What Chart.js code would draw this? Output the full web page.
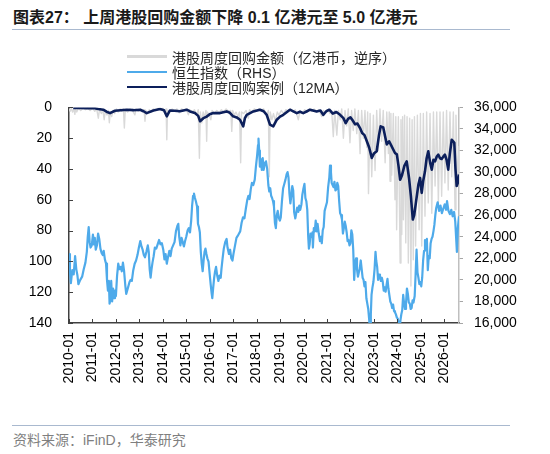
<!DOCTYPE html>
<html><head><meta charset="utf-8">
<script src="https://cdn.jsdelivr.net/npm/chart.js@4.4.1/dist/chart.umd.min.js"></script>
<style>
html,body{margin:0;padding:0;background:#fff}
body{width:550px;height:454px;position:relative;overflow:hidden;font-family:"Liberation Sans",Arial,"Noto Sans CJK SC",sans-serif}
#title{position:absolute;left:13px;top:8px;font-size:16px;font-weight:bold;color:#1a1a1a;white-space:nowrap;line-height:20px}
#tline{position:absolute;left:12px;top:29px;width:498px;height:1px;background:#a9b9cf}
#legend{position:absolute;left:127px;top:49px;font-size:14px;color:#262626;font-family:"Liberation Sans","Noto Sans CJK SC",sans-serif;z-index:2}
.item{height:15.3px;display:flex;align-items:center;white-space:nowrap}
.sw{width:40px;height:2.5px;margin-right:5px}
#bline{position:absolute;left:12px;top:425px;width:498px;height:1px;background:#a9b9cf}
#source{position:absolute;left:13px;top:431px;font-size:14px;color:#7f7f7f;white-space:nowrap;line-height:18px}
#wrap{position:absolute;left:0;top:82px;width:550px;height:324px}
</style>
</head><body>
<div id="title">图表27：&nbsp;上周港股回购金额下降 0.1 亿港元至 5.0 亿港元</div>
<div id="tline"></div>
<div id="legend"></div>
<div id="wrap"><canvas id="c" width="550" height="324"></canvas></div>
<div id="bline"></div>
<div id="source">资料来源：iFinD，华泰研究</div>
<script>
// ---------------- data ----------------
const seriesNames = ['港股周度回购金额（亿港币，逆序）', '恒生指数（RHS）', '港股周度回购案例（12MA）'];
const yearTicks = [2010,2011,2012,2013,2014,2015,2016,2017,2018,2019,2020,2021,2022,2023,2024,2025,2026];
const leftTicks = [0,20,40,60,80,100,120,140];

// weekly buyback amount (100m HKD), [decimal year, value]
const buybackAmount = [
[2010.00,1],[2010.05,2.5],[2010.10,0.5],[2010.15,3],[2010.20,1],[2010.25,4.5],[2010.28,1],[2010.33,3],[2010.40,0.5],[2010.50,2],[2010.60,0.5],[2010.70,1.5],[2010.80,0.5],[2010.90,2],
[2011.00,0.5],[2011.10,2.5],[2011.18,1],[2011.25,7],[2011.30,1.5],[2011.38,4],[2011.44,1.5],[2011.50,8],[2011.55,2],[2011.62,5],[2011.68,2],[2011.72,10],[2011.76,3],[2011.82,6],[2011.88,2],[2011.95,4],
[2012.02,1],[2012.10,3],[2012.18,1],[2012.25,2.5],[2012.32,1],[2012.36,13.4],[2012.40,1.5],[2012.50,3],[2012.60,1],[2012.70,2],[2012.81,4.8],[2012.86,1],[2012.95,2.5],
[2013.05,1],[2013.12,3],[2013.20,1.5],[2013.24,9],[2013.28,2],[2013.35,4],[2013.42,1.5],[2013.50,3],[2013.60,1],[2013.70,2],[2013.80,0.5],[2013.90,1.5],
[2014.00,0.5],[2014.08,2.5],[2014.14,1],[2014.17,21],[2014.20,2],[2014.30,3],[2014.40,1],[2014.50,2.5],[2014.60,1],[2014.70,3.5],[2014.80,1],[2014.90,2],
[2015.00,1],[2015.09,4.8],[2015.15,1.5],[2015.25,3],[2015.35,1.5],[2015.45,5],[2015.51,1.5],[2015.56,33],[2015.60,3],[2015.66,10],[2015.72,3],[2015.78,7],[2015.84,2],[2015.87,22],[2015.90,3],[2015.98,5],
[2016.05,8],[2016.10,2],[2016.20,4],[2016.30,2],[2016.40,3.5],[2016.50,1.5],[2016.60,3],[2016.70,1],[2016.80,2.5],[2016.90,2],[2016.94,15.6],[2016.98,2],
[2017.05,5],[2017.12,3],[2017.20,6],[2017.27,3],[2017.32,36],[2017.36,3],[2017.45,4],[2017.55,2],[2017.65,7],[2017.70,1.5],[2017.80,3],[2017.90,1],
[2018.00,2],[2018.10,1],[2018.20,2],[2018.30,1],[2018.38,3],[2018.43,4.8],[2018.50,2],[2018.54,45],[2018.58,3],[2018.65,8],[2018.72,4],[2018.80,9],[2018.88,3],[2018.95,5],
[2019.05,2],[2019.15,4],[2019.25,1.5],[2019.35,2.5],[2019.45,1],[2019.55,3],[2019.65,1.5],[2019.72,5],[2019.78,8],[2019.85,2],[2019.95,4],
[2020.05,1.5],[2020.15,3],[2020.25,1],[2020.35,2.5],[2020.45,1],[2020.55,3],[2020.65,1.5],[2020.72,4],[2020.78,6],[2020.85,2],[2020.95,3.5],
[2021.05,1.5],[2021.12,4],[2021.20,2],[2021.27,19],[2021.33,2],[2021.42,18],[2021.49,2],[2021.56,8],[2021.63,1],[2021.70,20],[2021.77,2],[2021.84,12],[2021.91,1],[2021.98,23],
[2022.05,2],[2022.12,15],[2022.19,1],[2022.27,17],[2022.34,2],[2022.41,30],[2022.48,2],[2022.55,20],[2022.62,2],[2022.70,26],[2022.735,3],[2022.77,56],[2022.84,4],[2022.91,45],[2022.98,5],
[2023.05,41],[2023.12,2],[2023.19,28],[2023.26,1],[2023.33,22],[2023.40,2],[2023.48,36],[2023.55,3],[2023.62,30],[2023.655,3],[2023.69,48],[2023.725,4],[2023.76,44],[2023.83,4],[2023.90,60],[2023.935,6],[2023.97,79.5],
[2024.045,6],[2024.12,101],[2024.155,8],[2024.19,82.5],[2024.225,6],[2024.26,73],[2024.31,5],[2024.36,88],[2024.415,6],[2024.47,101],[2024.525,7],[2024.58,116],[2024.63,8],[2024.68,99],[2024.73,6],[2024.78,90],[2024.855,5],[2024.93,79.5],[2024.985,4],
[2025.04,90],[2025.11,4],[2025.18,70.6],[2025.25,3],[2025.32,62],[2025.395,4],[2025.47,68.7],[2025.54,3],[2025.61,51],[2025.68,3],[2025.75,62],[2025.82,3],[2025.89,57.7],[2025.96,3],
[2026.03,49],[2026.10,2],[2026.17,53.6],[2026.245,3],[2026.32,45],[2026.39,3],[2026.46,66.5],[2026.50,5],[2026.57,51],[2026.63,25]
];

// Hang Seng Index, [decimal year, value]
const hangSeng = [
[2010.00,22400],[2010.04,20800],[2010.08,19700],[2010.14,20900],[2010.20,20500],[2010.26,22200],[2010.31,21000],[2010.36,20400],[2010.40,19600],[2010.48,20000],[2010.56,20300],[2010.63,21000],[2010.70,21600],[2010.76,22600],[2010.80,24000],[2010.84,24900],[2010.88,23500],[2010.92,23000],[2010.97,23200],
[2011.02,24200],[2011.06,23300],[2011.10,23900],[2011.14,22800],[2011.19,23200],[2011.24,24300],[2011.29,23800],[2011.34,22900],[2011.39,22500],[2011.44,22300],[2011.48,22700],[2011.53,21900],[2011.58,21500],[2011.62,20000],[2011.66,19000],[2011.70,19900],[2011.73,17800],[2011.77,18200],[2011.80,19900],[2011.84,18000],[2011.88,19200],[2011.92,18300],[2011.96,19000],
[2012.00,18500],[2012.05,20400],[2012.10,21500],[2012.15,21000],[2012.20,21200],[2012.25,20800],[2012.30,21600],[2012.35,20800],[2012.40,19500],[2012.44,18700],[2012.48,19000],[2012.53,19400],[2012.58,19800],[2012.63,20000],[2012.68,19900],[2012.74,20900],[2012.80,21500],[2012.86,21800],[2012.92,22300],[2012.98,23000],
[2013.04,23600],[2013.09,23100],[2013.14,22800],[2013.19,22300],[2013.24,22100],[2013.30,22600],[2013.36,23200],[2013.40,22600],[2013.44,21000],[2013.48,20200],[2013.52,21000],[2013.56,21600],[2013.61,22200],[2013.66,23000],[2013.72,22900],[2013.78,23300],[2013.84,23700],[2013.90,23300],[2013.96,23400],
[2014.02,22800],[2014.07,21900],[2014.12,22400],[2014.17,21500],[2014.22,22100],[2014.28,22700],[2014.33,22200],[2014.38,22900],[2014.44,23200],[2014.50,23500],[2014.56,24500],[2014.62,25000],[2014.66,25200],[2014.70,24000],[2014.75,23200],[2014.80,23900],[2014.85,23500],[2014.90,23100],[2014.95,23600],
[2015.00,24000],[2015.06,24600],[2015.11,24800],[2015.16,24400],[2015.21,25500],[2015.25,26900],[2015.29,27800],[2015.33,28000],[2015.37,27600],[2015.41,27300],[2015.46,26800],[2015.50,25200],[2015.54,24900],[2015.58,24400],[2015.62,22600],[2015.66,21500],[2015.70,20800],[2015.74,21800],[2015.78,22600],[2015.82,22900],[2015.86,22400],[2015.90,22000],[2015.95,21700],
[2016.00,20500],[2016.04,19600],[2016.08,18800],[2016.11,18300],[2016.15,19300],[2016.19,20200],[2016.23,20800],[2016.27,21200],[2016.32,20400],[2016.37,19900],[2016.42,20400],[2016.47,20200],[2016.50,21000],[2016.55,22000],[2016.60,22900],[2016.66,23500],[2016.72,23800],[2016.76,23000],[2016.82,22400],[2016.87,22800],[2016.92,22000],[2016.97,21800],
[2017.02,22500],[2017.08,23200],[2017.14,23900],[2017.20,24100],[2017.25,24300],[2017.30,24500],[2017.36,25300],[2017.42,25800],[2017.48,25700],[2017.54,26600],[2017.60,27400],[2017.65,27800],[2017.70,27500],[2017.75,28400],[2017.80,29000],[2017.86,28800],[2017.92,29300],[2017.97,30500],
[2018.02,31500],[2018.06,32500],[2018.08,33100],[2018.11,32000],[2018.14,30500],[2018.18,31200],[2018.22,30200],[2018.26,31300],[2018.30,30200],[2018.35,30800],[2018.40,31000],[2018.45,30300],[2018.50,28800],[2018.54,28200],[2018.58,28500],[2018.62,27800],[2018.66,27600],[2018.70,27300],[2018.74,26800],[2018.78,25300],[2018.82,24800],[2018.86,26000],[2018.90,26400],[2018.94,25800],[2018.99,25500],
[2019.03,25800],[2019.08,27300],[2019.13,28500],[2019.18,28900],[2019.23,29300],[2019.28,29800],[2019.32,30000],[2019.36,29500],[2019.40,28000],[2019.44,27100],[2019.48,27800],[2019.52,28700],[2019.56,28300],[2019.60,26300],[2019.65,25700],[2019.69,26200],[2019.73,26700],[2019.78,26300],[2019.82,26900],[2019.86,26500],[2019.91,27000],[2019.95,27900],[2019.99,28400],
[2020.04,28900],[2020.08,27600],[2020.12,27300],[2020.16,26500],[2020.20,24000],[2020.23,22900],[2020.26,23300],[2020.30,24300],[2020.34,24000],[2020.38,24400],[2020.40,23000],[2020.44,24800],[2020.48,24500],[2020.52,25500],[2020.56,24500],[2020.60,25200],[2020.65,24300],[2020.70,23600],[2020.74,24000],[2020.78,23400],[2020.82,24600],[2020.86,24900],[2020.90,26400],[2020.95,26800],
[2021.00,27200],[2021.05,28600],[2021.10,29500],[2021.13,30600],[2021.17,30000],[2021.20,29000],[2021.24,28800],[2021.28,28600],[2021.32,29100],[2021.36,28300],[2021.40,28400],[2021.44,29000],[2021.48,28700],[2021.52,27300],[2021.56,26200],[2021.60,26000],[2021.64,25600],[2021.68,24300],[2021.72,24800],[2021.76,25400],[2021.80,25000],[2021.84,24400],[2021.88,23600],[2021.92,23700],[2021.96,23200],
[2022.00,23400],[2022.04,24600],[2022.08,24200],[2022.12,22800],[2022.16,20000],[2022.20,21500],[2022.24,22000],[2022.28,21000],[2022.32,20300],[2022.36,20700],[2022.40,21100],[2022.44,21800],[2022.48,21000],[2022.52,20200],[2022.56,20000],[2022.60,19400],[2022.64,19800],[2022.68,18300],[2022.72,17800],[2022.76,17300],[2022.80,16300],[2022.84,15200],[2022.87,16800],[2022.90,18600],[2022.94,19300],[2022.98,19800],
[2023.03,21000],[2023.07,22600],[2023.10,21800],[2023.14,21200],[2023.18,20000],[2023.22,20500],[2023.26,20300],[2023.30,19900],[2023.34,20200],[2023.38,19800],[2023.42,19000],[2023.46,19300],[2023.50,18900],[2023.54,19500],[2023.58,20100],[2023.62,19200],[2023.66,18600],[2023.70,18000],[2023.74,17800],[2023.78,17400],[2023.82,17700],[2023.86,17100],[2023.90,17000],[2023.94,16800],[2023.98,16500],
[2024.02,16400],[2024.06,15900],[2024.10,15300],[2024.13,16200],[2024.17,16800],[2024.21,17200],[2024.25,18600],[2024.29,17800],[2024.33,17300],[2024.37,17800],[2024.41,19200],[2024.45,18700],[2024.49,17900],[2024.53,17800],[2024.57,17300],[2024.61,17400],[2024.65,18100],[2024.69,17900],[2024.74,18500],[2024.78,20500],[2024.82,22800],[2024.86,20700],[2024.90,20200],[2024.94,19600],[2024.98,19800],
[2025.02,19400],[2025.06,20200],[2025.10,21800],[2025.14,22700],[2025.18,23700],[2025.22,23400],[2025.26,23800],[2025.30,20900],[2025.34,22200],[2025.38,22000],[2025.42,23400],[2025.46,23800],[2025.50,24000],[2025.54,24500],[2025.58,25100],[2025.62,26000],[2025.66,26700],[2025.72,27200],[2025.78,26400],[2025.84,26900],[2025.90,26200],[2025.96,26600],
[2026.02,27000],[2026.08,26500],[2026.12,27300],[2026.18,26400],[2026.24,26100],[2026.30,26500],[2026.36,25900],[2026.42,26300],[2026.47,25400],[2026.51,23800],[2026.54,22600],[2026.58,24800],[2026.63,25900]
];

// buyback cases 12-week moving average, [decimal year, value]
const buybackCasesMA = [
[2010.18,0.4],[2010.50,0.3],[2010.80,0.5],[2011.04,0.4],[2011.25,1.0],[2011.46,1.5],[2011.60,2.8],[2011.75,3.7],[2011.96,2.2],[2012.20,1.8],[2012.46,1.5],[2012.75,1.8],[2013.03,1.5],[2013.18,2.5],[2013.31,3.7],[2013.60,2.0],[2013.88,1.0],[2014.05,1.8],[2014.17,5.8],[2014.30,2.0],[2014.50,2.2],[2014.73,2.5],[2015.02,1.5],[2015.16,2.6],[2015.37,3.7],[2015.51,5.5],[2015.59,9],[2015.73,7],[2015.87,6],[2016.00,4.5],[2016.15,3.7],[2016.44,3.7],[2016.72,2.6],[2016.86,3.5],[2017.00,5.8],[2017.15,6.5],[2017.29,8],[2017.43,12.3],[2017.50,7],[2017.58,4.8],[2017.86,2.6],[2018.14,1.5],[2018.30,2.5],[2018.43,4.8],[2018.57,11.2],[2018.71,12.3],[2018.86,8],[2019.00,6],[2019.14,4.8],[2019.42,1.5],[2019.71,3.7],[2019.85,2.8],[2019.99,3.7],[2020.15,2.5],[2020.28,1.5],[2020.56,2.6],[2020.72,2.0],[2020.84,4.8],[2020.97,2.5],[2021.10,1.5],[2021.25,4.0],[2021.40,3.0],[2021.56,4.8],[2021.70,7.0],[2021.80,10.2],[2021.90,7.5],[2022.00,6.5],[2022.10,8.5],[2022.20,11],[2022.30,10.5],[2022.41,13.4],[2022.50,16.6],[2022.60,18],[2022.70,22],[2022.80,26],[2022.91,32.8],[2023.00,30],[2023.12,28.5],[2023.22,18],[2023.29,12.3],[2023.40,13],[2023.55,24],[2023.65,22],[2023.76,25.3],[2023.90,29.6],[2023.98,30.5],[2024.05,38],[2024.12,47],[2024.20,44],[2024.30,38],[2024.40,35],[2024.50,46],[2024.58,58],[2024.66,72.8],[2024.72,70],[2024.80,61],[2024.90,50],[2024.97,45.8],[2025.04,55.5],[2025.10,48],[2025.18,41.5],[2025.25,33],[2025.32,28.5],[2025.40,36],[2025.47,40.4],[2025.54,34],[2025.61,35],[2025.68,32],[2025.75,30.7],[2025.82,33],[2025.89,33.5],[2025.96,32],[2026.03,30.7],[2026.10,34],[2026.17,40.4],[2026.24,30],[2026.32,21],[2026.38,22],[2026.43,23],[2026.48,40],[2026.53,51],[2026.58,49],[2026.63,43.5]
];

const seriesColors = ['#d9d9d9', '#4eaaea', '#0c1f5b'];

// ---------------- legend (HTML) ----------------
const lg = document.getElementById('legend');
seriesNames.forEach((n, i) => {
  const d = document.createElement('div'); d.className = 'item';
  d.innerHTML = '<span class="sw" style="background:' + seriesColors[i] + '"></span><span>' + n + '</span>';
  lg.appendChild(d);
});

const toXY = arr => arr.map(p => ({x: p[0], y: p[1]}));

const innerTicks = {
  id: 'innerTicks',
  afterDraw(chart) {
    const {ctx, chartArea: a, scales} = chart;
    ctx.save();
    ctx.strokeStyle = '#404040'; ctx.lineWidth = 1;
    ctx.beginPath();
    yearTicks.forEach(v => { const px = Math.round(scales.x.getPixelForValue(v)) + 0.5; ctx.moveTo(px, a.bottom); ctx.lineTo(px, a.bottom - 4); });
    leftTicks.forEach(v => { const py = Math.round(scales.y.getPixelForValue(v)) + 0.5; ctx.moveTo(a.left, py); ctx.lineTo(a.left + 4, py); });
    ctx.stroke();
    ctx.restore();
  }
};

const tickFont = {family: '"Liberation Sans", Arial, sans-serif', size: 14};

new Chart(document.getElementById('c'), {
  type: 'line',
  data: {
    datasets: [
      {label: seriesNames[2], data: toXY(buybackCasesMA), yAxisID: 'y', borderColor: seriesColors[2], borderWidth: 2.6, order: 1},
      {label: seriesNames[1], data: toXY(hangSeng), yAxisID: 'y2', borderColor: seriesColors[1], borderWidth: 2.2, order: 2},
      {label: seriesNames[0], data: toXY(buybackAmount), yAxisID: 'y', borderColor: seriesColors[0], borderWidth: 1.4, order: 3}
    ]
  },
  options: {
    responsive: false,
    animation: false,
    events: [],
    elements: {point: {radius: 0}, line: {tension: 0, borderJoinStyle: 'round'}},
    layout: {padding: {top: 10, left: 0, right: 0, bottom: 0}},
    plugins: {legend: {display: false}, tooltip: {enabled: false}},
    scales: {
      x: {
        type: 'linear', min: 2010, max: 2026.63,
        afterBuildTicks: s => { s.ticks = yearTicks.map(v => ({value: v})); },
        afterFit: s => { s.height = 83; },
        ticks: {autoSkip: false, maxRotation: 90, minRotation: 90, padding: 9, color: '#000', font: tickFont, callback: v => v + '-01'},
        grid: {drawOnChartArea: false, drawTicks: false},
        border: {color: '#404040', width: 1.5}
      },
      y: {
        position: 'left', reverse: true, min: 0, max: 140,
        afterFit: s => { s.width = 69; },
        ticks: {stepSize: 20, padding: 17, color: '#000', font: tickFont},
        grid: {drawOnChartArea: false, drawTicks: false},
        border: {color: '#404040', width: 1.5}
      },
      y2: {
        position: 'right', min: 16000, max: 36000,
        afterFit: s => { s.width = 91; },
        ticks: {stepSize: 2000, padding: 11, color: '#000', font: tickFont, callback: v => v.toLocaleString('en-US')},
        grid: {drawOnChartArea: false, drawTicks: true, tickLength: 4, color: '#a6a6a6'},
        border: {color: '#bfbfbf', width: 1.5}
      }
    }
  },
  plugins: [innerTicks]
});
</script>
</body></html>
